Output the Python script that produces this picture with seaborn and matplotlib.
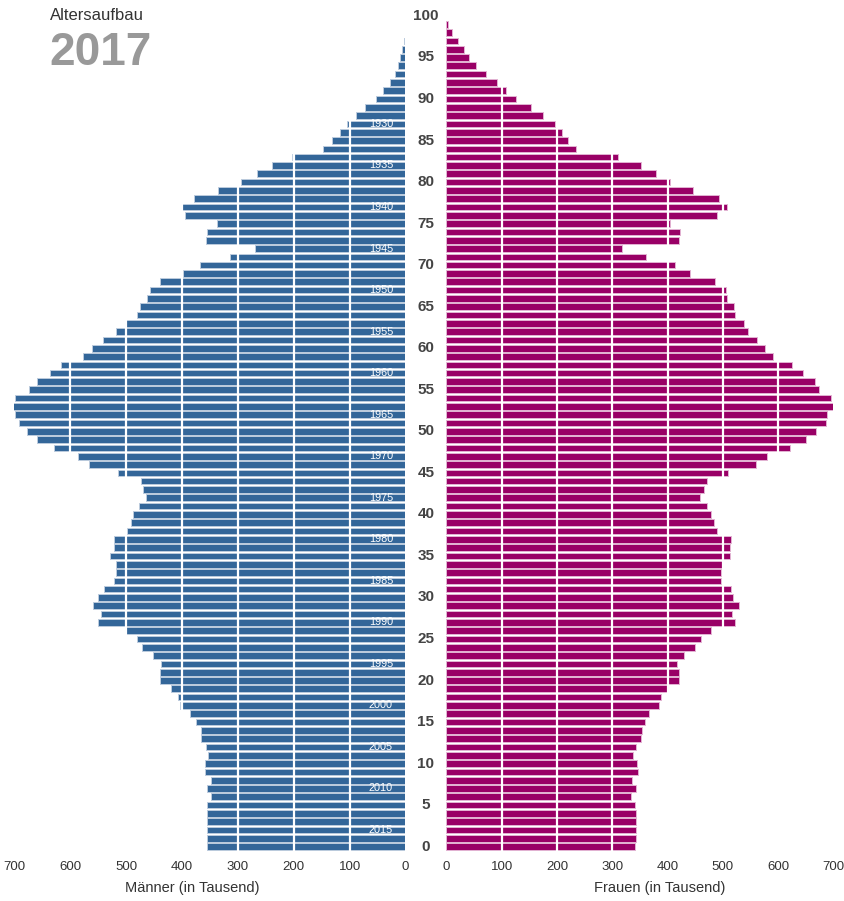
import matplotlib
matplotlib.use("Agg")
import matplotlib.pyplot as plt
import matplotlib.transforms as mtransforms
from matplotlib import font_manager
import seaborn as sns
import pandas as pd

# ---------------- data ----------------
ages = list(range(0, 100))
maenner = [355, 356, 356, 356, 356, 355, 348, 356, 349, 359,
           359, 353, 358, 367, 367, 375, 385, 403, 407, 420,
           440, 440, 437, 452, 471, 481, 502, 550, 545, 560,
           550, 539, 521, 518, 518, 529, 522, 522, 498, 491,
           488, 477, 465, 470, 473, 514, 566, 586, 630, 660,
           677, 692, 699, 709, 700, 674, 660, 636, 616, 578,
           561, 542, 518, 502, 480, 475, 462, 457, 440, 398,
           368, 315, 269, 357, 356, 337, 394, 402, 379, 336,
           295, 266, 239, 203, 147, 131, 117, 105, 88, 72,
           53, 40, 27, 19, 13, 9, 6, 3, 1.5, 0.5]
frauen = [341, 342, 342, 342, 342, 341, 334, 343, 336, 346,
          345, 338, 343, 352, 353, 359, 367, 385, 388, 399,
          420, 420, 417, 429, 450, 460, 478, 522, 517, 529,
          519, 514, 497, 497, 498, 512, 512, 514, 490, 483,
          479, 472, 458, 466, 471, 509, 560, 580, 621, 650,
          668, 686, 688, 699, 695, 674, 666, 644, 625, 590,
          577, 561, 546, 539, 522, 520, 508, 505, 486, 441,
          414, 360, 317, 420, 422, 405, 489, 508, 492, 446,
          405, 379, 351, 311, 235, 220, 209, 197, 175, 153,
          126, 108, 91, 71, 53, 41, 31, 21, 10.5, 3]
year = 2017
x_ticks = [0, 100, 200, 300, 400, 500, 600, 700]
age_ticks = list(range(0, 101, 5))
year_label_ages = list(range(2, 88, 5))

df = pd.DataFrame({"age": ages, "m": maenner, "f": frauen})

# ---------------- style ----------------
sns.set_style("white")
available = {f.name for f in font_manager.fontManager.ttflist}
base = "Liberation Sans" if "Liberation Sans" in available else "DejaVu Sans"
plt.rcParams["font.family"] = [base, "DejaVu Sans"]

BLUE = "#336699"
PINK = "#990066"
BLUE_EDGE = "#bccbdd"
PINK_EDGE = "#e2b3d2"

W, H = 845, 901
fig = plt.figure(figsize=(W / 100, H / 100), dpi=100)
bottom = 50.2 / H
height = 839 / H
ax_m = fig.add_axes([14.5 / W, bottom, 391 / W, height])
ax_f = fig.add_axes([446.5 / W, bottom, 387 / W, height])

sns.barplot(data=df, x="m", y="age", orient="h", native_scale=True,
            color=BLUE, width=0.8, saturation=1, ax=ax_m,
            linewidth=0.7, edgecolor=BLUE_EDGE)
sns.barplot(data=df, x="f", y="age", orient="h", native_scale=True,
            color=PINK, width=0.8, saturation=1, ax=ax_f,
            linewidth=0.7, edgecolor=PINK_EDGE)

for ax, lim in ((ax_m, (700, 0)), (ax_f, (0, 700))):
    ax.set_xlim(*lim)
    ax.set_ylim(-0.5, 100.5)
    for s in ax.spines.values():
        s.set_visible(False)
    ax.set_yticks([])
    ax.set_xticks(x_ticks)
    ax.set_xticklabels([str(v) for v in x_ticks])
    ax.tick_params(axis="x", length=0, labelsize=9.5, colors="#333333", pad=7)
    ax.set_xlabel("")
    ax.set_ylabel("")
    for gx in x_ticks[1:-1]:
        ax.axvline(gx, color="white", lw=1.6, zorder=5)

# birth-year labels inside male bars
for a in year_label_ages:
    ax_m.text(44, a, str(year - a), color="white", fontsize=7.8,
              ha="center", va="center", zorder=6)

# age labels in the middle
tr = mtransforms.blended_transform_factory(fig.transFigure, ax_f.transData)
for a in age_ticks:
    fig.text(426 / W, a, str(a), transform=tr, ha="center", va="center",
             fontsize=11, fontweight="bold", color="#444444")

# axis titles
fig.text(192 / W, 1 - 888 / H, "Männer (in Tausend)", ha="center", va="center",
         fontsize=10.5, color="#333333")
fig.text(660 / W, 1 - 888 / H, "Frauen (in Tausend)", ha="center", va="center",
         fontsize=10.5, color="#333333")

# titles
fig.text(50 / W, 1 - 15 / H, "Altersaufbau", ha="left", va="center",
         fontsize=12, color="#333333")
fig.text(49 / W, 1 - 53 / H, str(year), ha="left", va="center",
         fontsize=33, fontweight="bold", color="#999999")

fig.savefig("out.png", dpi=100, facecolor="white")
